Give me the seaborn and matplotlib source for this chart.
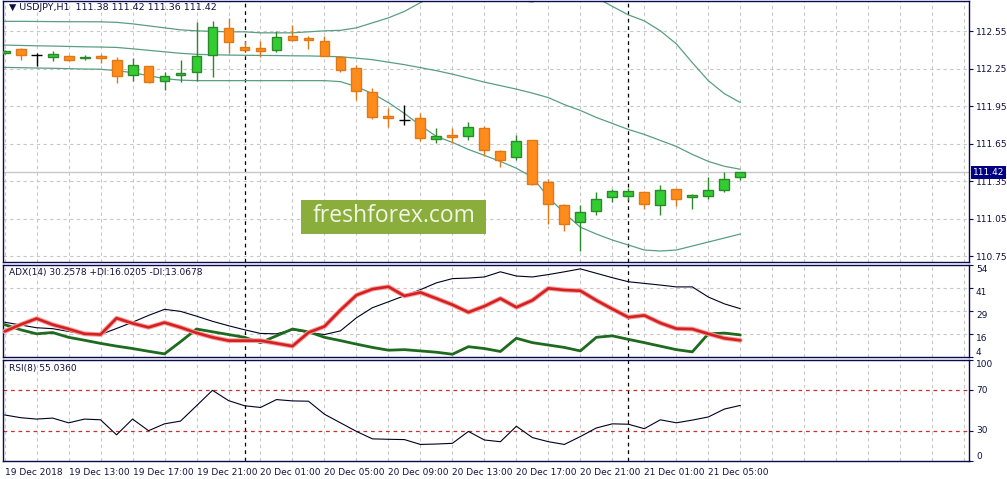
import numpy as np
import pandas as pd
import seaborn as sns
import matplotlib.pyplot as plt
import matplotlib.transforms as mtransforms
from matplotlib.patches import Rectangle
from matplotlib.ticker import MultipleLocator

# USDJPY H1, 19 Dec 09:00 .. 21 Dec 07:00
opens = [112.375, 112.405, 112.36, 112.345, 112.355, 112.335, 112.353, 112.32, 112.20, 112.273,
         112.154, 112.20, 112.226, 112.359, 112.577, 112.428, 112.417, 112.40, 112.515, 112.50,
         112.473, 112.348, 112.257, 112.065, 111.87, 111.836, 111.852, 111.684, 111.719, 111.708,
         111.772, 111.588, 111.54, 111.676, 111.341, 111.157, 111.022, 111.11, 111.221, 111.229,
         111.261, 111.157, 111.285, 111.221, 111.229, 111.282, 111.38]
highs = [112.40, 112.42, 112.38, 112.395, 112.36, 112.36, 112.37, 112.345, 112.34, 112.275,
         112.223, 112.32, 112.627, 112.632, 112.66, 112.47, 112.473, 112.555, 112.60, 112.51,
         112.51, 112.35, 112.28, 112.095, 111.937, 111.958, 111.894, 111.777, 111.774, 111.82,
         111.788, 111.599, 111.719, 111.676, 111.365, 111.165, 111.157, 111.264, 111.285, 111.293,
         111.272, 111.317, 111.29, 111.248, 111.38, 111.426, 111.42]
lows = [112.37, 112.32, 112.27, 112.31, 112.31, 112.32, 112.30, 112.135, 112.15, 112.14,
        112.077, 112.143, 112.156, 112.183, 112.38, 112.39, 112.348, 112.385, 112.47, 112.41,
        112.35, 112.226, 112.002, 111.85, 111.785, 111.80, 111.67, 111.657, 111.655, 111.68,
        111.548, 111.463, 111.52, 111.32, 111.006, 110.95, 110.793, 111.075, 111.181, 111.20,
        111.123, 111.075, 111.147, 111.123, 111.205, 111.266, 111.36]
closes = [112.395, 112.36, 112.36, 112.365, 112.32, 112.348, 112.337, 112.195, 112.28, 112.146,
          112.194, 112.22, 112.353, 112.585, 112.462, 112.40, 112.39, 112.505, 112.478, 112.48,
          112.356, 112.24, 112.074, 111.865, 111.854, 111.836, 111.697, 111.708, 111.703, 111.78,
          111.596, 111.522, 111.668, 111.325, 111.165, 111.006, 111.099, 111.205, 111.269, 111.269,
          111.165, 111.277, 111.205, 111.237, 111.277, 111.365, 111.42]

# Bollinger bands
bb_upper = [112.630, 112.630, 112.629, 112.628, 112.627, 112.627, 112.626, 112.622, 112.610, 112.594,
            112.578, 112.562, 112.554, 112.550, 112.546, 112.546, 112.538, 112.538, 112.538, 112.546,
            112.554, 112.558, 112.578, 112.618, 112.658, 112.710, 112.780, 112.840, 112.870, 112.880,
            112.870, 112.840, 112.800, 112.785, 112.830, 112.870, 112.870, 112.820, 112.750, 112.682,
            112.634, 112.554, 112.450, 112.299, 112.155, 112.051, 111.980]
bb_middle = [112.440, 112.437, 112.434, 112.432, 112.429, 112.426, 112.424, 112.421, 112.410, 112.398,
             112.386, 112.374, 112.366, 112.362, 112.360, 112.358, 112.357, 112.356, 112.354, 112.353,
             112.350, 112.346, 112.335, 112.323, 112.303, 112.283, 112.259, 112.235, 112.207, 112.175,
             112.143, 112.115, 112.087, 112.055, 112.019, 111.963, 111.916, 111.860, 111.812, 111.764,
             111.724, 111.676, 111.628, 111.564, 111.508, 111.469, 111.445]
bb_lower = [112.261, 112.259, 112.256, 112.254, 112.251, 112.248, 112.246, 112.235, 112.219, 112.195,
            112.171, 112.159, 112.155, 112.155, 112.155, 112.155, 112.155, 112.155, 112.155, 112.155,
            112.155, 112.147, 112.107, 112.051, 111.979, 111.892, 111.796, 111.708, 111.660, 111.604,
            111.556, 111.508, 111.453, 111.381, 111.221, 111.093, 110.981, 110.926, 110.878, 110.838,
            110.798, 110.790, 110.798, 110.830, 110.862, 110.894, 110.926]

# ADX(14)
adx = [22.9, 21.4, 19.9, 19.4, 17.9, 16.4, 16.2, 19.5, 22.9, 26.6,
       29.9, 28.8, 26.2, 23.4, 21.0, 18.8, 16.8, 16.6, 18.8, 17.3,
       16.2, 18.2, 25.3, 30.8, 34.0, 37.3, 40.6, 44.3, 46.6, 46.9,
       47.5, 50.3, 48.0, 47.5, 48.8, 50.3, 51.9, 49.5, 47.1, 44.9,
       44.0, 43.1, 42.1, 42.1, 36.6, 32.9, 30.26]
plus_di = [21.6, 18.8, 16.6, 17.3, 14.7, 13.1, 11.4, 9.9, 8.6, 7.1,
           5.7, 12.3, 19.2, 17.7, 16.2, 14.7, 11.8, 15.5, 19.2, 17.7,
           14.7, 12.9, 11.0, 9.2, 7.7, 8.0, 7.3, 6.6, 5.5, 9.6,
           8.6, 7.0, 14.2, 11.8, 10.5, 9.2, 7.3, 14.7, 15.5, 13.6,
           11.8, 9.9, 8.0, 6.8, 16.6, 17.0, 16.02]
minus_di = [17.9, 21.6, 24.9, 21.6, 19.2, 16.6, 16.2, 25.1, 22.3, 20.1,
            22.7, 20.1, 17.1, 14.7, 12.9, 12.9, 12.9, 11.4, 9.9, 17.3,
            20.6, 29.5, 37.6, 40.9, 42.2, 37.2, 39.1, 35.8, 32.4, 28.3,
            31.6, 35.8, 31.0, 34.8, 41.3, 40.4, 40.0, 34.8, 30.1, 25.6,
            26.6, 22.5, 19.4, 19.2, 16.6, 14.2, 13.07]

# RSI(8)
rsi = [45.6, 42.9, 41.5, 42.5, 37.8, 41.5, 40.8, 25.9, 41.5, 30.0,
       36.8, 39.5, 54.7, 70.0, 59.8, 54.7, 53.0, 60.8, 59.5, 59.2,
       46.3, 37.8, 29.3, 21.9, 21.5, 21.2, 16.4, 16.8, 17.5, 29.3,
       20.8, 19.1, 34.4, 23.2, 19.1, 16.4, 24.2, 32.7, 36.8, 36.4,
       32.0, 40.8, 37.8, 40.5, 43.6, 51.4, 55.04]

time_labels = ["19 Dec 2018", "19 Dec 13:00", "19 Dec 17:00", "19 Dec 21:00",
               "20 Dec 01:00", "20 Dec 05:00", "20 Dec 09:00", "20 Dec 13:00",
               "20 Dec 17:00", "20 Dec 21:00", "21 Dec 01:00", "21 Dec 05:00"]
price_ticks = [110.75, 111.05, 111.35, 111.65, 111.95, 112.25, 112.55]
adx_ticks = [4, 16.5, 29, 41.5, 54]
adx_tick_labels = ["4", "16", "29", "41", "54"]
rsi_ticks = [0, 30, 70, 100]
day_breaks = [15, 39]

sns.set_theme(style="white")
plt.rcParams['font.family'] = ['DejaVu Sans']

NAVY = '#0a0a50'
TXT = '#101040'
GRID = '#c8c8c8'

df = pd.DataFrame({'i': np.arange(len(opens)), 'open': opens, 'high': highs,
                   'low': lows, 'close': closes, 'up': bb_upper, 'mid': bb_middle,
                   'dn': bb_lower, 'adx': adx, 'pdi': plus_di, 'mdi': minus_di, 'rsi': rsi})

fig = plt.figure(figsize=(10.07, 4.79), dpi=100)
W, H = 1007, 479


def panel(top, bottom):
    return fig.add_axes([3 / W, 1 - bottom / H, 966 / W, (bottom - top) / H])


ax = panel(1, 262)
ax2 = panel(265, 357)
ax3 = panel(360, 461)

for a in (ax, ax2, ax3):
    a.set_facecolor('white')
    for s in a.spines.values():
        s.set_color(NAVY)
        s.set_linewidth(1.0)
    a.set_xlim(-0.1, 60.3)
    a.xaxis.set_minor_locator(MultipleLocator(2))
    a.grid(True, which='both', axis='x', color=GRID, ls=(0, (3, 3)), lw=0.8)
    a.grid(True, which='major', axis='y', color=GRID, ls=(0, (3, 3)), lw=0.8)
    a.yaxis.tick_right()
    a.tick_params(axis='y', which='both', direction='out', length=3, width=0.8,
                  colors=NAVY, labelcolor=TXT, labelsize=6.5, pad=2, right=True, left=False)
    a.tick_params(axis='x', which='both', direction='out', length=0, labelbottom=False)
    for b in day_breaks:
        a.axvline(b, color='black', ls=(0, (3, 3)), lw=0.9, zorder=1)

# ---- main price panel ----
ax.set_ylim(110.702, 112.793)
ax.set_yticks(price_ticks)
ax.set_yticklabels([f"{p:.2f}" for p in price_ticks])
ax.axhline(111.42, color='#c8c8c8', lw=1.0, zorder=1)

band_col = '#5a9e80'
for col in ('up', 'mid', 'dn'):
    sns.lineplot(data=df, x='i', y=col, ax=ax, color=band_col, lw=0.9, legend=False, zorder=2)

bull = df['close'] > df['open']
doji = df['close'] == df['open']

edge = np.where(bull, '#2a8a2a', '#e07818')
edge = np.where(doji, 'black', edge)
fill = np.where(bull, '#33cc33', '#ff8c1a')
ax.vlines(df['i'], df['low'], df['high'], colors=edge, lw=1.0, zorder=3)
bottoms = np.minimum(df['open'], df['close'])
heights = np.maximum((df['close'] - df['open']).abs(), 0.005)
nd = ~doji
ax.bar(df['i'][nd], heights[nd], bottom=bottoms[nd], width=0.62, color=fill[nd],
       edgecolor=edge[nd], linewidth=1.0, zorder=4)
ax.hlines(df['close'][doji], df['i'][doji] - 0.35, df['i'][doji] + 0.35,
          colors='black', lw=1.0, zorder=4)

ax.text(6 / 966, 1 - 6 / 261, "\u25bc USDJPY,H1  111.38 111.42 111.36 111.42",
        transform=ax.transAxes, fontsize=6.8, color=TXT, va='center', ha='left')

trans = mtransforms.blended_transform_factory(ax.transAxes, ax.transData)
ax.text(1.004, 111.42, "111.42", transform=trans, fontsize=6.5, color='white',
        va='center', ha='left', zorder=10,
        bbox=dict(facecolor='#000080', edgecolor='none', pad=1.6))

# ---- ADX panel ----
ax2.set_ylim(4, 54)
sns.lineplot(data=df, x='i', y='adx', ax=ax2, color='#000020', lw=0.8, legend=False, zorder=3)
sns.lineplot(data=df, x='i', y='pdi', ax=ax2, color='#1e6a1e', lw=2.0, legend=False, zorder=4)
sns.lineplot(data=df, x='i', y='mdi', ax=ax2, color='#f4a0a0', lw=3.4, legend=False, zorder=4)
sns.lineplot(data=df, x='i', y='mdi', ax=ax2, color='#d62020', lw=1.9, legend=False, zorder=5)
ax2.set_yticks(adx_ticks)
ax2.set_yticklabels(adx_tick_labels)
for lab in ax2.get_yticklabels():
    lab.set_va('bottom' if lab.get_text() == '4' else 'top')
ax2.text(6 / 966, 1 - 7 / 92, "ADX(14) 30.2578 +DI:16.0205 -DI:13.0678",
         transform=ax2.transAxes, fontsize=6.5, color=TXT, va='center', ha='left')

# ---- RSI panel ----
ax3.set_ylim(0, 100)
ax3.set_yticks(rsi_ticks)
ax3.grid(False, axis='y')
for lv in (30, 70):
    ax3.axhline(lv, color='#c83030', ls=(0, (3, 3)), lw=0.9, zorder=2)
sns.lineplot(data=df, x='i', y='rsi', ax=ax3, color='#000020', lw=0.8, legend=False, zorder=3)
for lab in ax3.get_yticklabels():
    t = lab.get_text()
    lab.set_va('top' if t == '100' else ('bottom' if t == '0' else 'center'))
ax3.text(6 / 966, 1 - 8 / 101, "RSI(8) 55.0360",
         transform=ax3.transAxes, fontsize=6.5, color=TXT, va='center', ha='left')

ax3.set_xticks(np.arange(0, 45, 4))
ax3.set_xticklabels(time_labels, ha='left')
ax3.tick_params(axis='x', which='major', length=4, width=0.8, colors=NAVY,
                labelcolor=TXT, labelsize=6.5, labelbottom=True, pad=1)
ax3.tick_params(axis='x', which='minor', length=0)

# seaborn sets axis labels from column names; the terminal has none
for a in (ax, ax2, ax3):
    a.set_xlabel('')
    a.set_ylabel('')

# watermark
fig.patches.append(Rectangle((301 / W, 1 - 234 / H), 185 / W, 34 / H,
                             transform=fig.transFigure, facecolor='#8aad3c',
                             edgecolor='none', zorder=20))
fig.text(394 / W, 1 - 216 / H, "freshforex.com", fontsize=16.5, color='#f2f6e6',
         family=['Open Sans', 'DejaVu Sans'], ha='center', va='center', zorder=21)

fig.savefig('out.png', dpi=100, facecolor='white')
